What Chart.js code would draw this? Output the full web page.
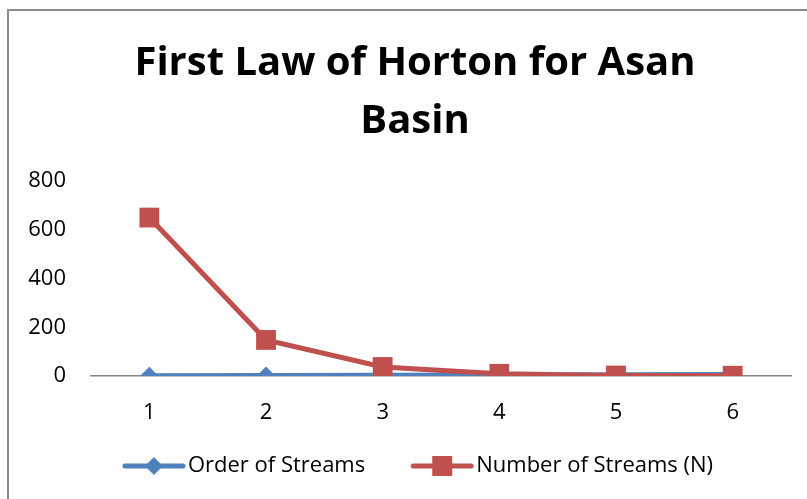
<!DOCTYPE html>
<html>
<head>
<meta charset="utf-8">
<script src="https://cdn.jsdelivr.net/npm/chart.js@4"></script>
<style>
  html, body { margin: 0; padding: 0; background: #fff; }
  #wrap { position: relative; width: 807px; height: 499px; overflow: hidden; }
  #frame { position: absolute; left: 7px; top: 9px; width: 900px; height: 600px;
           border-left: 2px solid #8c8c8c; border-top: 2px solid #8c8c8c; pointer-events: none; }
</style>
</head>
<body>
<div id="wrap">
  <canvas id="myChart" width="807" height="499"></canvas>
  <div id="frame"></div>
</div>
<script>
// chart data
const orders = ['1', '2', '3', '4', '5', '6'];
const orderOfStreams = [1, 2, 3, 4, 5, 6];
const numberOfStreams = [650, 148, 37, 9, 2, 1];
const yTicks = [0, 200, 400, 600, 800];

const blue = '#4F81BD';
const red = '#C0504D';
const font = 'Open Sans';

// legend pictures: a line with the marker in the middle, blank space on the left
const iconGap = 44;
function legendIcon(color, shape) {
  const c = document.createElement('canvas');
  c.width = 64 + iconGap; c.height = 20;
  const ctx = c.getContext('2d');
  const x0 = iconGap;
  ctx.strokeStyle = color;
  ctx.lineWidth = 5;
  ctx.lineCap = 'round';
  ctx.beginPath();
  ctx.moveTo(x0 + 3, 10); ctx.lineTo(x0 + 61, 10);
  ctx.stroke();
  ctx.fillStyle = color;
  ctx.beginPath();
  if (shape === 'diamond') {
    ctx.moveTo(x0 + 32, 1); ctx.lineTo(x0 + 41, 10); ctx.lineTo(x0 + 32, 19); ctx.lineTo(x0 + 23, 10);
  } else {
    ctx.rect(x0 + 22, 0, 20, 20);
  }
  ctx.fill();
  return c;
}
const icons = [legendIcon(blue, 'diamond'), legendIcon(red, 'square')];

// nudge things the layout can't place on its own
const layoutFix = {
  id: 'layoutFix',
  afterLayout(chart) {
    chart.scales.y.left = 0; // so the y labels are not clipped
    chart.legend.left -= 15;
    chart.legend.right -= 15;
  }
};

const data = {
  labels: orders,
  datasets: [{
    label: 'Order of Streams',
    data: orderOfStreams,
    borderColor: blue,
    backgroundColor: blue,
    borderWidth: 5,
    pointStyle: 'rectRot',
    pointRadius: 9,
    pointBorderWidth: 0,
    order: 2
  }, {
    label: 'Number of Streams (N)',
    data: numberOfStreams,
    borderColor: red,
    backgroundColor: red,
    borderWidth: 5,
    pointStyle: 'rect',
    pointRadius: 14,
    pointBorderWidth: 0,
    order: 1
  }]
};

const config = {
  type: 'line',
  data: data,
  plugins: [layoutFix],
  options: {
    responsive: false,
    animation: false,
    layout: { padding: { left: 39, right: 16, top: 35, bottom: 12 } },
    plugins: {
      tooltip: { enabled: false },
      title: {
        display: true,
        text: ['First Law of Horton for Asan', 'Basin'],
        color: '#000',
        font: { family: font, size: 40, weight: 'bold', lineHeight: 1.45 },
        padding: { top: 0, bottom: 30 }
      },
      legend: {
        position: 'bottom',
        labels: {
          usePointStyle: true,
          pointStyleWidth: 64 + iconGap - 18,
          padding: 10,
          color: '#000',
          font: { family: font, size: 22 },
          generateLabels: () => data.datasets.map((ds, i) => ({
            text: ds.label,
            pointStyle: icons[i],
            fillStyle: ds.borderColor,
            strokeStyle: ds.borderColor,
            lineWidth: 0,
            datasetIndex: i
          }))
        }
      }
    },
    scales: {
      x: {
        offset: true,
        grid: { display: false },
        border: { display: true, color: '#868686', width: 1.5 },
        afterFit: (scale) => { scale.height = 69; },
        ticks: { color: '#000', padding: 16, font: { family: font, size: 22 } }
      },
      y: {
        min: 0,
        max: 800,
        grid: { display: false },
        border: { display: false },
        afterFit: (scale) => { scale.width = 52; },
        afterBuildTicks: (scale) => { scale.ticks = yTicks.map(v => ({ value: v })); },
        ticks: { color: '#000', padding: 17, font: { family: font, size: 22 } }
      }
    }
  }
};

const myChart = new Chart(document.getElementById('myChart'), config);
</script>
</body>
</html>
